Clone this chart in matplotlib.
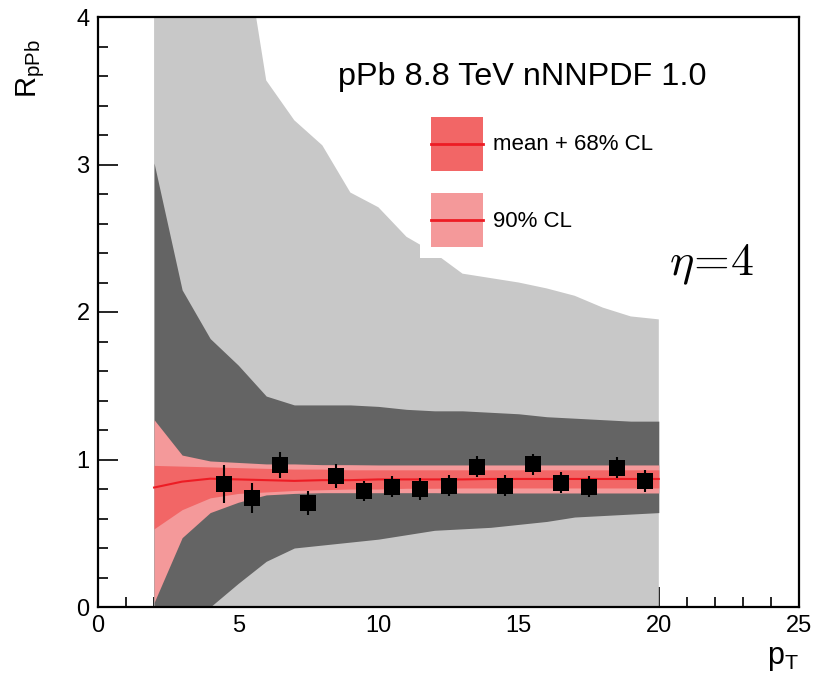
import matplotlib
matplotlib.use("Agg")
import matplotlib.pyplot as plt
from matplotlib.patches import Patch, Rectangle
from matplotlib.lines import Line2D
from matplotlib.legend_handler import HandlerBase
from matplotlib.ticker import MultipleLocator

plt.rcParams['font.family'] = ['Liberation Sans', 'DejaVu Sans']
plt.rcParams['mathtext.fontset'] = 'cm'

# ---- data ----
x_band = [2, 3, 4, 5, 6, 7, 8, 9, 10, 11, 12, 13, 14, 15, 16, 17, 18, 19, 20]
light_hi = [6.0, 5.5, 5.1, 4.76, 3.57, 3.30, 3.13, 2.81, 2.71, 2.51, 2.40, 2.26, 2.23, 2.20, 2.16, 2.11, 2.03, 1.97, 1.95]
light_lo = [0.0, 0.0, 0.0, 0.0, 0.0, 0.0, 0.0, 0.0, 0.0, 0.0, 0.0, 0.0, 0.0, 0.0, 0.0, 0.0, 0.0, 0.0, 0.0]
dark_hi = [3.01, 2.15, 1.82, 1.64, 1.43, 1.37, 1.37, 1.37, 1.36, 1.34, 1.33, 1.33, 1.32, 1.31, 1.29, 1.28, 1.27, 1.26, 1.26]
dark_lo = [-0.60, -0.30, 0.00, 0.16, 0.31, 0.40, 0.42, 0.44, 0.46, 0.49, 0.52, 0.53, 0.54, 0.56, 0.58, 0.61, 0.62, 0.63, 0.64]
cl90_hi = [1.27, 1.03, 0.99, 0.98, 0.97, 0.97, 0.965, 0.965, 0.963, 0.963, 0.963, 0.963, 0.963, 0.963, 0.963, 0.963, 0.963, 0.963, 0.963]
cl68_hi = [0.96, 0.955, 0.95, 0.945, 0.94, 0.935, 0.935, 0.93, 0.93, 0.93, 0.93, 0.93, 0.93, 0.93, 0.93, 0.93, 0.93, 0.93, 0.93]
mean = [0.81, 0.85, 0.87, 0.865, 0.86, 0.855, 0.86, 0.86, 0.865, 0.865, 0.865, 0.865, 0.868, 0.868, 0.868, 0.868, 0.868, 0.868, 0.868]
cl68_lo = [0.53, 0.66, 0.74, 0.77, 0.78, 0.79, 0.795, 0.80, 0.80, 0.805, 0.805, 0.807, 0.807, 0.807, 0.807, 0.807, 0.807, 0.807, 0.807]
cl90_lo = [0.03, 0.47, 0.64, 0.71, 0.76, 0.77, 0.775, 0.775, 0.775, 0.775, 0.775, 0.773, 0.773, 0.773, 0.773, 0.773, 0.773, 0.773, 0.773]

pt_x = [4.5, 5.5, 6.5, 7.5, 8.5, 9.5, 10.5, 11.5, 12.5, 13.5, 14.5, 15.5, 16.5, 17.5, 18.5, 19.5]
pt_y = [0.834, 0.74, 0.963, 0.705, 0.888, 0.786, 0.816, 0.80, 0.823, 0.951, 0.823, 0.967, 0.843, 0.816, 0.944, 0.854]
pt_err = [0.13, 0.10, 0.09, 0.08, 0.08, 0.07, 0.072, 0.072, 0.072, 0.072, 0.072, 0.072, 0.072, 0.072, 0.072, 0.072]

title_text = "pPb 8.8 TeV nNNPDF 1.0"
leg_labels = ["mean + 68% CL", "90% CL"]

c_light = "#c8c8c8"
c_dark = "#646464"
c_90 = "#f4999a"
c_68 = "#f26666"
c_red = "#ed1c24"


class BoxWithLine(HandlerBase):
    def create_artists(self, legend, orig_handle, xdescent, ydescent,
                       width, height, fontsize, trans):
        rect = Rectangle((-xdescent, -ydescent), width, height,
                         facecolor=orig_handle.get_facecolor(), lw=0,
                         transform=trans)
        yc = -ydescent + height / 2
        line = Line2D([-xdescent, -xdescent + width], [yc, yc],
                      color=c_red, lw=2, transform=trans)
        return [rect, line]


W, H = 814, 673
fig = plt.figure(figsize=(W / 100, H / 100), dpi=100)
ax = fig.add_axes([98 / W, (H - 607) / H, (799 - 98) / W, (607 - 17) / H])
ax.set_axisbelow(True)

ax.fill_between(x_band, light_lo, light_hi, color=c_light, lw=0, zorder=1)
ax.fill_between(x_band, dark_lo, dark_hi, color=c_dark, lw=0, zorder=1.1)
ax.fill_between(x_band, cl90_lo, cl90_hi, color=c_90, lw=0, zorder=1.2)
ax.fill_between(x_band, cl68_lo, cl68_hi, color=c_68, lw=0, zorder=1.3)
ax.plot(x_band, mean, color=c_red, lw=1.5, zorder=1.4)

ax.errorbar(pt_x, pt_y, yerr=pt_err, fmt='s', color='black', ms=11, mew=0,
            elinewidth=1.5, capsize=2.4, capthick=2, zorder=3)

ax.set_xlim(0, 25)
ax.set_ylim(0, 4)
ax.xaxis.set_major_locator(MultipleLocator(5))
ax.xaxis.set_minor_locator(MultipleLocator(1))
ax.yaxis.set_major_locator(MultipleLocator(1))
ax.yaxis.set_minor_locator(MultipleLocator(0.2))
ax.tick_params(which='both', direction='in', top=False, right=False,
               labelsize=17, width=1.2, color='black')
ax.tick_params(which='major', length=14.4, pad=6)
ax.tick_params(which='minor', length=7.2)
for s in ax.spines.values():
    s.set_linewidth(1.6)

ax.set_xlabel(r'$\mathregular{p_T}$', fontsize=22, loc='right', labelpad=4)
ax.set_ylabel(r'$\mathregular{R_{pPb}}$', fontsize=21, loc='top')
ax.yaxis.set_label_coords((47 - 98) / 701, (607 - 39) / 590)

ax.text(0.605, 0.885, title_text, transform=ax.transAxes, ha='center',
        va='baseline', fontsize=23.3)
ax.text(0.875, 0.563, r'$\eta\!=\!4$', transform=ax.transAxes, ha='center',
        va='baseline', fontsize=33)

handles = [Patch(facecolor=c_68, lw=0), Patch(facecolor=c_90, lw=0)]
leg = ax.legend(handles, leg_labels, loc='upper left',
                bbox_to_anchor=((420 - 98) / 701, (607 - 106) / 590),
                borderaxespad=0, fontsize=16, frameon=True, fancybox=False,
                handlelength=2.34, handleheight=3.36, handletextpad=0.45,
                labelspacing=1.0, borderpad=0.5,
                handler_map={Patch: BoxWithLine()})
leg.get_frame().set_facecolor('white')
leg.get_frame().set_edgecolor('none')
leg.get_frame().set_alpha(1)
leg.set_zorder(5)

fig.savefig("out.png", dpi=100)
